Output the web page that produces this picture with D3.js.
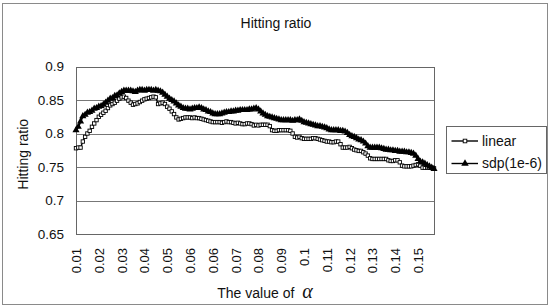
<!DOCTYPE html>
<html>
<head>
<meta charset="utf-8">
<script src="https://cdn.jsdelivr.net/npm/d3@7"></script>
<style>
  body { margin: 0; background: #fff; }
  text { font-family: "Liberation Sans", Arial, sans-serif; fill: #111; }
</style>
</head>
<body>
<div id="chart"></div>
<script>
// --- Datos ---
const tickLabels = ["0.01", "0.02", "0.03", "0.04", "0.05", "0.06", "0.06", "0.07",
  "0.08", "0.09", "0.1", "0.11", "0.12", "0.13", "0.14", "0.15"];
const tickEvery = 10; // una etiqueta cada 10 puntos

const linear = [
  0.778, 0.779, 0.779, 0.788, 0.795, 0.800, 0.804, 0.810, 0.815, 0.820,
  0.825, 0.828, 0.831, 0.834, 0.838, 0.842, 0.844, 0.846, 0.849, 0.852,
  0.854, 0.855, 0.853, 0.849, 0.846, 0.843, 0.844, 0.845, 0.847, 0.849,
  0.851, 0.852, 0.853, 0.854, 0.855, 0.854, 0.844, 0.845, 0.846, 0.844,
  0.840, 0.837, 0.833, 0.829, 0.824, 0.821, 0.822, 0.823, 0.824, 0.824,
  0.824, 0.823, 0.824, 0.823, 0.823, 0.822, 0.821, 0.820, 0.819, 0.818,
  0.817, 0.817, 0.817, 0.817, 0.816, 0.817, 0.818, 0.817, 0.817, 0.816,
  0.815, 0.816, 0.815, 0.814, 0.814, 0.815, 0.815, 0.814, 0.812, 0.813,
  0.812, 0.813, 0.813, 0.813, 0.813, 0.811, 0.805, 0.804, 0.804, 0.805,
  0.805, 0.805, 0.805, 0.805, 0.804, 0.800, 0.795, 0.794, 0.795, 0.793,
  0.792, 0.792, 0.792, 0.792, 0.793, 0.793, 0.792, 0.791, 0.790, 0.789,
  0.788, 0.788, 0.787, 0.787, 0.788, 0.788, 0.784, 0.779, 0.779, 0.779,
  0.780, 0.778, 0.776, 0.775, 0.774, 0.774, 0.772, 0.770, 0.767, 0.763,
  0.762, 0.762, 0.762, 0.762, 0.762, 0.762, 0.762, 0.760, 0.759, 0.759,
  0.760, 0.760, 0.757, 0.752, 0.751, 0.751, 0.751, 0.751, 0.752, 0.753,
  0.754, 0.752, 0.749, 0.749, 0.749, 0.749, 0.749, 0.748
];

const sdp = [
  0.805, 0.810, 0.818, 0.826, 0.828, 0.831, 0.832, 0.834, 0.837, 0.838,
  0.840, 0.841, 0.843, 0.846, 0.849, 0.852, 0.853, 0.856, 0.857, 0.860,
  0.862, 0.864, 0.864, 0.864, 0.864, 0.863, 0.862, 0.864, 0.865, 0.865,
  0.864, 0.865, 0.865, 0.865, 0.864, 0.865, 0.864, 0.863, 0.861, 0.858,
  0.855, 0.852, 0.850, 0.848, 0.845, 0.842, 0.840, 0.838, 0.837, 0.837,
  0.836, 0.837, 0.838, 0.838, 0.839, 0.838, 0.836, 0.835, 0.833, 0.832,
  0.830, 0.829, 0.829, 0.829, 0.830, 0.831, 0.832, 0.832, 0.833, 0.833,
  0.834, 0.834, 0.835, 0.835, 0.835, 0.835, 0.836, 0.836, 0.837, 0.838,
  0.836, 0.833, 0.830, 0.828, 0.826, 0.825, 0.824, 0.823, 0.822, 0.821,
  0.820, 0.820, 0.820, 0.820, 0.820, 0.819, 0.820, 0.820, 0.821, 0.819,
  0.817, 0.816, 0.815, 0.814, 0.813, 0.812, 0.811, 0.811, 0.810, 0.809,
  0.808, 0.806, 0.805, 0.805, 0.805, 0.805, 0.804, 0.804, 0.803, 0.801,
  0.798, 0.796, 0.795, 0.793, 0.791, 0.790, 0.788, 0.785, 0.781, 0.779,
  0.779, 0.779, 0.779, 0.779, 0.778, 0.777, 0.776, 0.776, 0.775, 0.775,
  0.774, 0.774, 0.773, 0.773, 0.773, 0.772, 0.772, 0.771, 0.770, 0.767,
  0.762, 0.758, 0.757, 0.755, 0.753, 0.751, 0.749, 0.747
];

const yTicks = [0.65, 0.7, 0.75, 0.8, 0.85, 0.9];

// --- Configuración ---
const width = 551, height = 308;
const plot = { left: 76, right: 434, top: 66.5, bottom: 234 };

const svg = d3.select("#chart").append("svg")
  .attr("width", width)
  .attr("height", height);

// Borde exterior
svg.append("rect")
  .attr("x", 2.5).attr("y", 3.5)
  .attr("width", 545).attr("height", 301)
  .attr("fill", "#fff")
  .attr("stroke", "#8a8a8a")
  .attr("stroke-width", 1);

const x = d3.scaleLinear()
  .domain([0, linear.length - 1])
  .range([plot.left, plot.right]);

const y = d3.scaleLinear()
  .domain([0.65, 0.9])
  .range([plot.bottom, plot.top]);

// Título
svg.append("text")
  .attr("x", 276).attr("y", 28)
  .attr("text-anchor", "middle")
  .style("font-size", "14px")
  .text("Hitting ratio");

// Líneas de la cuadrícula
svg.append("g")
  .selectAll("line")
  .data(yTicks.slice(1, -1))
  .enter().append("line")
  .attr("x1", plot.left).attr("x2", plot.right)
  .attr("y1", d => Math.round(y(d)) + 0.5)
  .attr("y2", d => Math.round(y(d)) + 0.5)
  .attr("stroke", "#777")
  .attr("stroke-width", 1);

// Marco del área de trazado
svg.append("rect")
  .attr("x", plot.left + 0.5).attr("y", Math.round(plot.top) + 0.5)
  .attr("width", plot.right - plot.left)
  .attr("height", plot.bottom - Math.round(plot.top))
  .attr("fill", "none")
  .attr("stroke", "#666");

// Eje Y
const yAxis = d3.axisLeft(y)
  .tickValues(yTicks)
  .tickSize(0)
  .tickPadding(12)
  .tickFormat(d => String(+d.toFixed(2)));

svg.append("g")
  .attr("transform", `translate(${plot.left},0)`)
  .call(yAxis)
  .call(g => g.select(".domain").remove())
  .selectAll("text")
  .style("font-size", "13.5px")
  .attr("fill", "#111");

svg.append("text")
  .attr("transform", `translate(28,${(plot.top + plot.bottom) / 2 + 4}) rotate(-90)`)
  .attr("text-anchor", "middle")
  .style("font-size", "14px")
  .text("Hitting ratio");

// Eje X (etiquetas verticales)
const xTickIdx = tickLabels.map((d, i) => i * tickEvery);
const xAxis = d3.axisBottom(x)
  .tickValues(xTickIdx)
  .tickSize(0)
  .tickFormat((d, i) => tickLabels[i]);

svg.append("g")
  .attr("transform", `translate(0,${plot.bottom})`)
  .call(xAxis)
  .call(g => g.select(".domain").remove())
  .selectAll("text")
  .style("font-size", "13px")
  .attr("fill", "#111")
  .attr("text-anchor", "end")
  .attr("transform", "rotate(-90)")
  .attr("x", -14)
  .attr("y", 0)
  .attr("dy", "0.35em");

const xTitle = svg.append("text")
  .attr("x", 265).attr("y", 298)
  .attr("text-anchor", "middle")
  .style("font-size", "14px");
xTitle.append("tspan").text("The value of ");
xTitle.append("tspan")
  .attr("dx", 4)
  .style("font-family", "'Liberation Serif', 'DejaVu Serif', serif")
  .style("font-style", "italic")
  .style("font-size", "20px")
  .text("α");

// --- Series ---
const line = d3.line()
  .x((d, i) => x(i))
  .y(d => y(d));

const triangle = d3.symbol().type(d3.symbolTriangle).size(22);

function drawSeries(data, kind) {
  const g = svg.append("g");
  g.append("path")
    .datum(data)
    .attr("d", line)
    .attr("fill", "none")
    .attr("stroke", "#000")
    .attr("stroke-width", kind === "square" ? 1.4 : 2);

  if (kind === "square") {
    g.selectAll("rect")
      .data(data)
      .enter().append("rect")
      .attr("x", (d, i) => x(i) - 1.7)
      .attr("y", d => y(d) - 1.7)
      .attr("width", 3.4).attr("height", 3.4)
      .attr("fill", "#fff")
      .attr("stroke", "#000")
      .attr("stroke-width", 0.9);
  } else {
    g.selectAll("path.m")
      .data(data)
      .enter().append("path")
      .attr("class", "m")
      .attr("d", triangle)
      .attr("transform", (d, i) => `translate(${x(i)},${y(d)})`)
      .attr("fill", "#000");
  }
}

drawSeries(linear, "square");
drawSeries(sdp, "triangle");

// --- Leyenda ---
const legend = svg.append("g");
legend.append("rect")
  .attr("x", 446.5).attr("y", 126.5)
  .attr("width", 100).attr("height", 47)
  .attr("fill", "#fff")
  .attr("stroke", "#666");

const entries = [
  { name: "linear", kind: "square", cy: 141 },
  { name: "sdp(1e-6)", kind: "triangle", cy: 163.5 }
];

entries.forEach(e => {
  legend.append("line")
    .attr("x1", 451.5).attr("x2", 478)
    .attr("y1", e.cy).attr("y2", e.cy)
    .attr("stroke", "#000").attr("stroke-width", 1.4);
  if (e.kind === "square") {
    legend.append("rect")
      .attr("x", 463.2).attr("y", e.cy - 1.8)
      .attr("width", 3.6).attr("height", 3.6)
      .attr("fill", "#fff").attr("stroke", "#000").attr("stroke-width", 0.9);
  } else {
    legend.append("path")
      .attr("d", d3.symbol().type(d3.symbolTriangle).size(24))
      .attr("transform", `translate(465,${e.cy})`)
      .attr("fill", "#000");
  }
  legend.append("text")
    .attr("x", 482).attr("y", e.cy)
    .attr("dy", "0.35em")
    .style("font-size", "14px")
    .text(e.name);
});
</script>
</body>
</html>
